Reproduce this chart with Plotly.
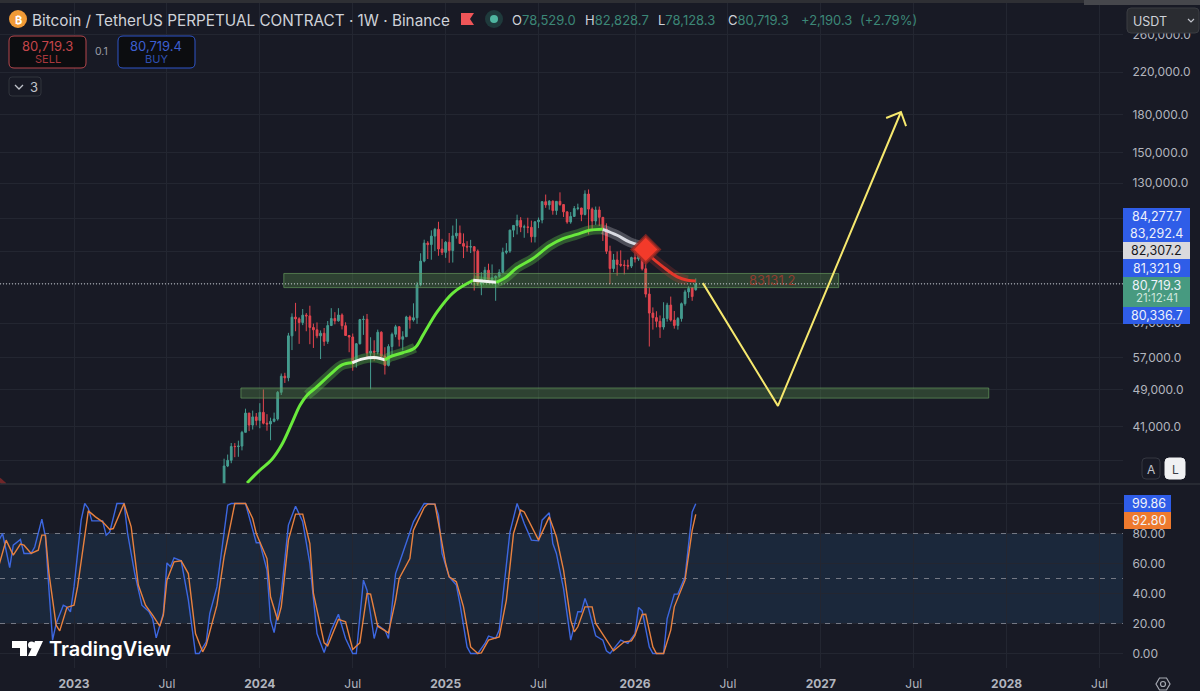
import pandas as pd
import plotly.graph_objects as go
from plotly.subplots import make_subplots

BG = '#181a25'
GRID = '#232631'
TEXT = '#b2b5be'
UP = '#459c90'
DOWN = '#e2454f'

# weekly BTCUSDT candles, first bar 2023-10-23
first_week = '2023-10-23'
opens = [
    29990, 34080, 35010, 37380, 37360, 37450, 39970, 43790, 41370, 43000,
    42280, 43930, 41730, 41580, 42100, 42580, 48300, 52140, 51730, 63110,
    68950, 68400, 67210, 69610, 69360, 65660, 64940, 63110, 63890, 61480,
    66270, 68510, 67750, 69650, 66220, 63210, 62770, 55860, 60790, 68160,
    68250, 58160, 58710, 58430, 64200, 57300, 54870, 59990, 63580, 65890,
    62080, 62850, 69000, 68020, 68750, 80370, 89900, 97900, 97200, 101200,
    104500, 95200, 93700, 98300, 94500, 101300, 102600, 97700, 96460, 96100,
    96250, 94270, 80700, 82600, 86100, 82400, 83100, 83700, 85200, 93700,
    94300, 104100, 106450, 109000, 105600, 105700, 105500, 100900, 108300, 109200,
    119100, 117300, 119400, 114200, 119300, 117500, 113500, 108200, 111100, 115300,
    115600, 112100, 123500, 115000, 108700, 114500, 110600, 104700, 94200, 86800,
    90400, 88500, 88200, 88100, 87800, 91400, 90800, 93500, 86700, 76900,
    70300, 68800, 67600, 65800, 68500, 73000, 68000, 66300, 68500, 73500,
    77700, 79200, 78529.0,
]
highs = [
    35280, 35980, 38000, 37980, 38420, 40250, 44700, 43800, 44300, 43800,
    45880, 48970, 43560, 42840, 43880, 48600, 52800, 52980, 64000, 70200,
    73780, 68920, 71650, 70300, 72780, 66870, 67250, 64750, 65500, 67700,
    71960, 70600, 71950, 70200, 67300, 63370, 63800, 61000, 68380, 69400,
    70000, 62700, 61800, 65000, 64500, 59800, 60650, 64100, 66500, 66000,
    64500, 69400, 69500, 73620, 81500, 93300, 99500, 98800, 104000, 105200,
    108300, 99900, 98900, 102700, 106400, 109800, 106400, 102500, 98800, 99400,
    96500, 95000, 85300, 87500, 88800, 88500, 84000, 86500, 95800, 97900,
    104300, 106650, 112000, 110700, 106800, 110400, 108900, 108500, 110500, 119500,
    123200, 120000, 119800, 119400, 124500, 117600, 113700, 113400, 116700, 118000,
    115700, 125700, 126200, 115900, 116400, 116400, 110700, 107500, 96700, 93000,
    94100, 94600, 90300, 90500, 91800, 94800, 97800, 93700, 90500, 79300,
    72200, 70900, 69500, 74000, 73800, 76000, 71000, 69000, 73900, 78500,
    79800, 79500, 82828.7,
]
lows = [
    29880, 33900, 34530, 35530, 35600, 36700, 39970, 40200, 40500, 41300,
    40750, 41500, 40280, 38500, 41900, 42250, 47700, 50500, 50900, 59000,
    64500, 60760, 66400, 64500, 60660, 59600, 62400, 56550, 60180, 60750,
    66100, 66650, 67500, 65050, 63400, 58400, 53500, 54300, 60600, 63400,
    57100, 49000, 56100, 57800, 57100, 52550, 54600, 57500, 62700, 60000,
    58900, 62800, 65300, 67500, 66800, 79800, 89400, 90800, 90500, 94300,
    92200, 92500, 91300, 89200, 89300, 100000, 97700, 91200, 94000, 93400,
    78200, 80000, 76500, 81100, 81600, 81200, 74500, 83100, 85100, 92900,
    93500, 100700, 102000, 103100, 100400, 102600, 98200, 98200, 105100, 107500,
    115700, 114700, 112000, 111900, 116800, 110800, 107300, 107300, 110800, 114400,
    108600, 111600, 102000, 103500, 106700, 106200, 98900, 93000, 80600, 85300,
    83900, 87500, 84400, 86400, 87000, 89300, 90000, 86000, 75700, 60000,
    65000, 65700, 62500, 65000, 67500, 67500, 65300, 65000, 67500, 72800,
    75500, 74500, 78128.3,
]
closes = [
    34080, 35010, 37380, 37360, 37450, 39970, 43790, 41370, 43000, 42280,
    43930, 41730, 41580, 42100, 42580, 48300, 52140, 51730, 63110, 68950,
    68400, 67210, 69610, 69360, 65660, 64940, 63110, 63890, 61480, 66270,
    68510, 67750, 69650, 66220, 63210, 62770, 55860, 60790, 68160, 68250,
    58160, 58710, 58430, 64200, 57300, 54870, 59990, 63580, 65890, 62080,
    62850, 69000, 68020, 68750, 80370, 89900, 97900, 97200, 101200, 104500,
    95200, 93700, 98300, 94500, 101300, 102600, 97700, 96460, 96100, 96250,
    94270, 80700, 82600, 86100, 82400, 83100, 83700, 85200, 93700, 94300,
    104100, 106450, 109000, 105600, 105700, 105500, 100900, 108300, 109200, 119100,
    117300, 119400, 114200, 119300, 117500, 113500, 108200, 111100, 115300, 115600,
    112100, 123500, 115000, 108700, 114500, 110600, 104700, 94200, 86800, 90400,
    88500, 88200, 88100, 87800, 91400, 90800, 93500, 86700, 76900, 70300,
    68800, 67600, 65800, 68500, 73000, 68000, 66300, 68500, 73500, 77700,
    79000, 76000, 80719.3,
]
last_close = 80719.3

# moving average line, read point by point
ma_dates = [
    '2023-12-07', '2024-01-01', '2024-01-24', '2024-02-13', '2024-03-04', '2024-03-20', '2024-04-03', '2024-04-22',
    '2024-05-17', '2024-06-10', '2024-06-30', '2024-07-21', '2024-08-17', '2024-09-02', '2024-09-12', '2024-10-07',
    '2024-10-31', '2024-11-16', '2024-12-13', '2025-01-13', '2025-02-22', '2025-04-08', '2025-04-28', '2025-05-18',
    '2025-06-19', '2025-07-22', '2025-08-17', '2025-09-13', '2025-10-08', '2025-11-03', '2025-12-01', '2025-12-26',
    '2026-01-15', '2026-02-04', '2026-03-01', '2026-03-29', '2026-04-18', '2026-05-04',
]
ma_values = [
    31450, 33400, 35090, 37670, 41800, 45500, 47700, 49600,
    52450, 55000, 55550, 56600, 56900, 56300, 57150, 58250,
    59650, 63400, 70600, 77300, 82100, 81300, 83400, 87000,
    91000, 96800, 100000, 102000, 104000, 104500, 101600, 98300,
    96800, 92000, 87500, 83400, 82100, 81800,
]
signal_date = '2026-01-26'
signal_price = 95000
ma_left_dates = ['2022-08-08', '2022-08-20']
ma_left_values = [32000, 31200]

# drawn levels and forecast
zone_dates = [['2024-02-17', '2027-02-08'], ['2023-11-25', '2027-11-29']]
zone_prices = [[79300, 84800], [47000, 49300]]
forecast_dates = ['2026-05-18', '2026-10-12', '2027-06-10']
forecast_prices = [81000, 45300, 182100]
arrow_dates = ['2027-05-12', '2027-06-10', '2027-06-20']
arrow_prices = [177000, 182100, 170400]

# stochastic RSI, x is weeks from the 2023 tick
k_weeks = [
    -21, -20, -18, -17, -15, -14, -12, -11, -9, -8, -7, -6, -5, -3, -2, -1, 0, 2, 3, 4, 5, 8, 9, 10, 12, 14, 15, 17, 19,
    21, 22, 23, 25, 26, 27, 28, 30, 32, 34, 35, 37, 38, 40, 43, 44, 48, 51, 52, 54, 55, 56, 58, 60, 62, 64, 66, 68, 70,
    72, 74, 76, 78, 79, 81, 82, 84, 85, 87, 88, 90, 91, 95, 98, 101, 102, 103, 105, 107, 108, 110, 111, 113, 115, 116,
    118, 119, 122, 124, 126, 128, 130, 131, 133, 134, 135, 137, 139, 141, 142, 143, 144, 146, 148, 149, 150, 152, 153,
    155, 157, 158, 159, 161, 162, 165, 166, 168, 169, 171, 173, 174,
]
k_values = [
    75.6, 80, 57.3, 72.2, 76, 66.7, 66.7, 71, 89.6, 77.8, 42.2, 8.9, 20, 32.2, 31, 27.8, 44.4, 88.9, 100, 96.7, 88.4,
    88.4, 78.9, 81, 100, 100, 80, 53.3, 32.2, 27.8, 23.3, 10.4, 26.7, 60.4, 57.8, 63.8, 61.8, 35.6, 0, 0, 7.8, 26.7,
    44.4, 98.9, 100, 100, 73.8, 73.8, 55.6, 22.2, 14, 40, 85.6, 98.2, 87.8, 60, 13.3, 0.7, 15.6, 26.2, 10, 0, 0, 48.9,
    42.2, 10, 18.9, 15.6, 10, 53.3, 60, 87.8, 100, 99.6, 92.2, 66.7, 51.1, 45.6, 33.3, 4.4, 0, 0, 6.7, 11.6, 10, 15.6,
    81, 100, 86.7, 75.6, 75.1, 88.9, 93.8, 73.3, 66.7, 43.3, 8.9, 27.8, 27.8, 36.7, 30, 11.8, 8.9, 1.8, 0, 6.2, 8.9,
    6.7, 13.3, 30.7, 28.4, 4.4, 0, 0, 23.3, 39.6, 39.6, 51.1, 94.4, 99.86,
]
d_weeks = [
    -21, -19, -17, -15, -14, -12, -10, -9, -8, -7, -5, -4, -2, 0, 1, 3, 4, 6, 8, 10, 11, 14, 16, 18, 20, 22, 24, 25, 26,
    28, 30, 32, 34, 36, 37, 40, 42, 45, 48, 50, 51, 54, 55, 57, 58, 60, 62, 64, 66, 67, 70, 71, 74, 76, 78, 80, 82, 83,
    85, 88, 90, 91, 94, 95, 98, 99, 101, 102, 104, 105, 107, 109, 111, 113, 114, 116, 119, 121, 123, 125, 126, 130, 133,
    135, 137, 139, 140, 141, 143, 145, 146, 151, 154, 156, 157, 159, 160, 162, 163, 165, 167, 168, 171, 173, 174,
]
d_values = [
    58.9, 75.6, 65.6, 72.9, 72.2, 66.7, 68.9, 78.9, 78.9, 53.3, 18.9, 15.1, 30.7, 32.2, 44.4, 80, 95.1, 91.1, 87.8, 82.7,
    83.3, 100, 84.4, 45.6, 32.2, 25.6, 18.2, 25.6, 48.9, 61.1, 61.8, 53.3, 13.3, 1.1, 5.6, 32.2, 64.4, 100, 100, 90, 80,
    63.3, 37.8, 22.2, 31.1, 75.6, 92.9, 92.9, 73.3, 40, 7.1, 5.1, 22.7, 21.1, 2.7, 7.1, 40, 39.6, 18.2, 13.8, 35.6, 50,
    63.3, 82.2, 97.3, 99.6, 99.6, 86.7, 60, 51.1, 47.8, 31.1, 4.4, 0, 0.4, 8.9, 11.1, 35.6, 80, 95.6, 94.4, 75.6, 91.1,
    77.8, 55.6, 22.2, 14.4, 17.8, 31.1, 31.1, 20, 1.8, 7.8, 8.4, 12.2, 26, 26.2, 4.4, 0, 0, 15.6, 31.1, 48.9, 82.2, 92.8,
]

# the pills on the price scale cover the labels at 110k, 94k and 81k
price_ticks = [263000, 220000, 180000, 150000, 130000, 110000, 94000, 81000, 67000, 57000, 49000, 41000, 35000]
price_tick_text = ['260,000.0', '220,000.0', '180,000.0', '150,000.0', '130,000.0', '', '',
                   '', '67,000.0', '57,000.0', '49,000.0', '41,000.0', '']
stoch_ticks = [0, 20, 40, 60, 80, 100]
stoch_tick_text = ['0.00', '20.00', '40.00', '60.00', '80.00', '']
stoch_levels = [80, 50, 20]
time_ticks = ['2023-01-02', '2023-07-03', '2024-01-01', '2024-07-01', '2024-12-30', '2025-06-30', '2026-01-05',
              '2026-07-06', '2027-01-04', '2027-07-05', '2028-01-03', '2028-07-03']
time_tick_text = ['<b>2023</b>', 'Jul', '<b>2024</b>', 'Jul', '<b>2025</b>', 'Jul', '<b>2026</b>',
                  'Jul', '<b>2027</b>', 'Jul', '<b>2028</b>', 'Jul']

week_dates = pd.date_range(first_week, periods=len(closes), freq='7D')
week_zero = pd.Timestamp('2023-01-02')
x_range = ['2022-08-10', '2028-08-18']


def px(x):
    return x / 1200


def py(y):
    return 1 - y / 691


def week_to_date(weeks):
    return [week_zero + pd.Timedelta(days=7 * w) for w in weeks]


def rounded(x0, y0, x1, y1, r=3):
    return (f'M {px(x0 + r)} {py(y0)} L {px(x1 - r)} {py(y0)} Q {px(x1)} {py(y0)} {px(x1)} {py(y0 + r)} '
            f'L {px(x1)} {py(y1 - r)} Q {px(x1)} {py(y1)} {px(x1 - r)} {py(y1)} '
            f'L {px(x0 + r)} {py(y1)} Q {px(x0)} {py(y1)} {px(x0)} {py(y1 - r)} '
            f'L {px(x0)} {py(y0 + r)} Q {px(x0)} {py(y0)} {px(x0 + r)} {py(y0)} Z')


def poly(points):
    return 'M ' + ' L '.join(f'{px(x)} {py(y)}' for x, y in points) + ' Z'


fig = make_subplots(rows=2, cols=1, shared_xaxes=True, vertical_spacing=0)

fig.add_trace(go.Candlestick(
    x=week_dates, open=opens, high=highs, low=lows, close=closes,
    increasing=dict(line=dict(color=UP, width=1), fillcolor=UP),
    decreasing=dict(line=dict(color=DOWN, width=1), fillcolor=DOWN),
    whiskerwidth=0, hoverinfo='skip',
), row=1, col=1)

# green zones
for dates, prices in zip(zone_dates, zone_prices):
    fig.add_trace(go.Scatter(
        x=[dates[0], dates[1], dates[1], dates[0], dates[0]],
        y=[prices[0], prices[0], prices[1], prices[1], prices[0]],
        mode='lines', fill='toself', fillcolor='rgba(92,150,80,0.33)',
        line=dict(color='rgba(104,160,96,0.65)', width=1), hoverinfo='skip',
    ), row=1, col=1)

# last price line
fig.add_trace(go.Scatter(
    x=x_range, y=[last_close, last_close], mode='lines',
    line=dict(color='#c8ccd4', width=1, dash='1px,2px'), hoverinfo='skip',
), row=1, col=1)

# glow under the moving average, then the line itself in pieces
glow_parts = [(6, 16, 'rgba(90,190,70,0.38)'), (20, 29, 'rgba(90,190,70,0.38)'),
              (29, 32, 'rgba(200,200,210,0.3)'), (33, 36, 'rgba(220,60,50,0.22)')]
line_parts = [(0, 10, '#69ea3c'), (10, 13, '#f0f2ee'), (13, 20, '#69ea3c'), (20, 21, '#f0f2ee'),
              (21, 29, '#69ea3c'), (29, 32, '#d9dbe2'), (32, 37, '#e5372b')]
for start, end, color in glow_parts:
    fig.add_trace(go.Scatter(
        x=ma_dates[start:end + 1], y=ma_values[start:end + 1], mode='lines',
        line=dict(color=color, width=10, shape='spline'), hoverinfo='skip',
    ), row=1, col=1)
for start, end, color in line_parts:
    fig.add_trace(go.Scatter(
        x=ma_dates[start:end + 1], y=ma_values[start:end + 1], mode='lines',
        line=dict(color=color, width=3, shape='spline'), hoverinfo='skip',
    ), row=1, col=1)
fig.add_trace(go.Scatter(
    x=ma_left_dates, y=ma_left_values, mode='lines',
    line=dict(color='rgba(200,50,45,0.5)', width=4), hoverinfo='skip',
), row=1, col=1)
fig.add_trace(go.Scatter(
    x=[signal_date], y=[signal_price], mode='markers',
    marker=dict(symbol='diamond', size=21, color='#f33a2a', line=dict(color='rgba(150,40,35,0.75)', width=3)),
    hoverinfo='skip',
), row=1, col=1)

# forecast drawing
for dates, prices in [(forecast_dates, forecast_prices), (arrow_dates, arrow_prices)]:
    fig.add_trace(go.Scatter(
        x=dates, y=prices, mode='lines',
        line=dict(color='#f6e86e', width=2), hoverinfo='skip',
    ), row=1, col=1)

# stochastic pane, dashed levels as traces so the grid does not cut them
fig.add_shape(type='rect', xref='x2', yref='y2', x0=x_range[0], x1=x_range[1], y0=20, y1=80,
              fillcolor='rgba(40,100,150,0.2)', line_width=0, layer='below')
for level in stoch_levels:
    fig.add_trace(go.Scatter(
        x=x_range, y=[level, level], mode='lines',
        line=dict(color='#747884', width=1, dash='5px,6px'), hoverinfo='skip',
    ), row=2, col=1)
fig.add_trace(go.Scatter(
    x=week_to_date(k_weeks), y=k_values, mode='lines',
    line=dict(color='#3d67e0', width=1.4), hoverinfo='skip',
), row=2, col=1)
fig.add_trace(go.Scatter(
    x=week_to_date(d_weeks), y=d_values, mode='lines',
    line=dict(color='#e8813f', width=1.4), hoverinfo='skip',
), row=2, col=1)

fig.update_layout(
    width=1200, height=691,
    margin=dict(l=0, r=0, t=0, b=0),
    paper_bgcolor=BG, plot_bgcolor=BG,
    showlegend=False, hovermode=False,
    font=dict(family='Inter', color=TEXT),
    xaxis=dict(domain=[0, px(1123)], range=x_range, rangeslider=dict(visible=False), automargin=False,
               tickvals=time_ticks, showticklabels=False, showgrid=True, gridcolor=GRID, gridwidth=1,
               zeroline=False, ticks=''),
    xaxis2=dict(domain=[0, px(1123)], range=x_range, matches='x', automargin=False,
                tickvals=time_ticks, ticktext=time_tick_text,
                tickfont=dict(family='Inter', size=12, color=TEXT), showgrid=True, gridcolor=GRID, gridwidth=1,
                zeroline=False, ticks='outside', ticklen=5, tickcolor='rgba(0,0,0,0)', tickangle=0),
    yaxis=dict(domain=[py(484), 1], type='log', range=[4.4955, 5.4906], side='right', automargin=False,
               tickvals=price_ticks, ticktext=price_tick_text,
               tickfont=dict(family='Inter', size=12, color=TEXT), showgrid=True, gridcolor=GRID, gridwidth=1,
               zeroline=False, ticks='outside', ticklen=6, tickcolor='rgba(0,0,0,0)'),
    yaxis2=dict(domain=[py(668), py(484)], range=[-9.67, 113], side='right', automargin=False,
                tickvals=stoch_ticks, ticktext=stoch_tick_text,
                tickfont=dict(family='Inter', size=12, color=TEXT), showgrid=True, gridcolor=GRID, gridwidth=1,
                zeroline=False, ticks='outside', ticklen=6, tickcolor='rgba(0,0,0,0)'),
)


def note(x, y, text, size=12.5, color=TEXT, anchor='left', weight=None):
    fig.add_annotation(xref='paper', yref='paper', x=px(x), y=py(y), text=text, showarrow=False,
                       xanchor=anchor, yanchor='middle', borderpad=0,
                       font=dict(family='Inter', size=size, color=color, weight=weight))


def box(x0, y0, x1, y1, fill, line=None, r=3):
    fig.add_shape(type='path', xref='paper', yref='paper', path=rounded(x0, y0, x1, y1, r), fillcolor=fill,
                  line=dict(color=line or fill, width=1), layer='above')


# header strip
fig.add_shape(type='rect', xref='paper', yref='paper', x0=0, x1=1, y0=py(3), y1=1,
              fillcolor='#2e2f34', line_width=0, layer='above')
fig.add_shape(type='rect', xref='paper', yref='paper', x0=px(1084), x1=1, y0=py(5), y1=1,
              fillcolor='#46474c', line_width=0, layer='above')

# pane divider
fig.add_shape(type='line', xref='paper', yref='paper', x0=0, x1=1, y0=py(484), y1=py(484),
              line=dict(color='#2d3039', width=1.5), layer='above')

# symbol line
fig.add_shape(type='circle', xref='paper', yref='paper', x0=px(9), x1=px(27), y0=py(28), y1=py(10),
              fillcolor='#f09a36', line_width=0, layer='above')
note(18, 20, '\u20bf', size=11, color='#ffffff', anchor='center', weight=700)
note(31, 20, 'Bitcoin / TetherUS PERPETUAL CONTRACT \u00b7 1W \u00b7 Binance', size=15.3, color='#cfd2d9')
fig.add_shape(type='path', xref='paper', yref='paper', fillcolor='#ef5558', line_width=0, layer='above',
              path=poly([(461, 13), (474, 13), (470, 19), (474, 25), (461, 25)]))
fig.add_shape(type='circle', xref='paper', yref='paper', x0=px(485), x1=px(503), y0=py(28), y1=py(10),
              fillcolor='#1f3a3c', line_width=0, layer='above')
fig.add_shape(type='circle', xref='paper', yref='paper', x0=px(490), x1=px(498), y0=py(23), y1=py(15),
              fillcolor='#4fb5a0', line_width=0, layer='above')
ohlc_items = [(511, 'O', '78,529.0'), (584, 'H', '82,828.7'), (657, 'L', '78,128.3'), (727, 'C', '80,719.3')]
for x, name, value in ohlc_items:
    note(x, 20, f"{name}<span style='color:#3c8777'>{value}</span>", size=13, color='#cfd2d9')
note(800, 20, '+2,190.3', size=13, color='#3c8777')
note(859, 20, '(+2.79%)', size=13, color='#3c8777')

# sell / buy
box(9, 36, 86, 68, '#0c0d10', '#b5474c', r=5)
note(47.5, 46, '80,719.3', size=13, color='#c4454a', anchor='center')
note(47.5, 59, 'SELL', size=11, color='#a9383d', anchor='center')
note(101, 52, '0.1', size=10.5, color='#9a9da6', anchor='center')
box(118, 36, 195, 68, '#0c0d10', '#2f55c8', r=5)
note(156.5, 46, '80,719.4', size=13, color='#3c5fd0', anchor='center')
note(156.5, 59, 'BUY', size=11, color='#2f50b0', anchor='center')
box(9, 77, 41, 96, BG, '#31343d')
fig.add_shape(type='path', xref='paper', yref='paper', path=f'M {px(15)} {py(85)} L {px(19)} {py(89)} L {px(23)} {py(85)}',
              line=dict(color='#c0c3cb', width=1.3), layer='above')
note(29, 87, '3', size=13, color='#c0c3cb')

# USDT dropdown
box(1127, 8, 1199, 33, '#2a2c31', '#3a3c42', r=4)
note(1132, 21, 'USDT', size=12.5, color='#cfd2d9')
fig.add_shape(type='path', xref='paper', yref='paper', path=f'M {px(1188)} {py(19)} L {px(1191)} {py(22)} L {px(1194)} {py(19)}',
              line=dict(color='#c0c3cb', width=1.2), layer='above')

# level label inside the upper zone
note(772, 280, '83131.2', size=13, color='#8f3d30', anchor='center')

# price scale labels
price_pills = [(208, 225, '#2f5de8', '84,277.7', '#eef1fb'), (225, 242, '#2f5de8', '83,292.4', '#eef1fb'),
               (242, 259, '#d9d9dd', '82,307.2', '#16171c'), (259, 277, '#2f5de8', '81,321.9', '#eef1fb'),
               (307, 324, '#2f5de8', '80,336.7', '#eef1fb')]
for y0, y1, fill, label, color in price_pills:
    fig.add_shape(type='rect', xref='paper', yref='paper', x0=px(1123), x1=px(1190), y0=py(y1), y1=py(y0),
                  fillcolor=fill, line_width=0, layer='above')
    note(1156.5, (y0 + y1) / 2, label, size=12.5, color=color, anchor='center')
fig.add_shape(type='rect', xref='paper', yref='paper', x0=px(1123), x1=px(1190), y0=py(307), y1=py(277),
              fillcolor='#479a80', line_width=0, layer='above')
note(1156.5, 285, '80,719.3', size=12.5, color='#eef1fb', anchor='center')
note(1156.5, 298, '21:12:41', size=11.5, color='#cde6dc', anchor='center')

# A / L buttons
box(1142, 458, 1160, 479, BG, '#343741', r=4)
note(1151, 469, 'A', size=12, color='#c0c3cb', anchor='center')
box(1165, 458, 1185, 479, '#f0f1f3', '#f0f1f3', r=4)
note(1175, 469, 'L', size=12, color='#3a3c44', anchor='center')

# stochastic pills
stoch_pills = [(495, 512, '#2f5de8', '99.86'), (512, 529, '#ee7a2e', '92.80')]
for y0, y1, fill, label in stoch_pills:
    fig.add_shape(type='rect', xref='paper', yref='paper', x0=px(1124), x1=px(1171), y0=py(y1), y1=py(y0),
                  fillcolor=fill, line_width=0, layer='above')
    note(1149, (y0 + y1) / 2, label, size=12.5, color='#f1f3f8', anchor='center')

# TradingView mark
for pts in [[(12, 641), (27, 641), (27, 656), (20, 656), (20, 648), (12, 648)],
            [(35, 641), (43, 641), (36, 656), (28, 656)]]:
    fig.add_shape(type='path', xref='paper', yref='paper', path=poly(pts), fillcolor='#ffffff', line_width=0, layer='above')
fig.add_shape(type='circle', xref='paper', yref='paper', x0=px(28), x1=px(35), y0=py(648.5), y1=py(641.5),
              fillcolor='#ffffff', line_width=0, layer='above')
note(48, 649, 'TradingView', size=20, color='#ffffff', weight=600)

# settings icon
fig.add_shape(type='path', xref='paper', yref='paper', line=dict(color='#a6a9b2', width=1.2), layer='above',
              path=poly([(1156, 684), (1159.5, 678), (1166.5, 678), (1170, 684), (1166.5, 690), (1159.5, 690)]))
fig.add_shape(type='circle', xref='paper', yref='paper', x0=px(1160.5), x1=px(1165.5), y0=py(686.5), y1=py(681.5),
              line=dict(color='#a6a9b2', width=1.2), layer='above')

fig.write_html('out.html', config={'displayModeBar': False},
               post_script="document.body.style.margin='0';document.body.style.overflow='hidden';")
